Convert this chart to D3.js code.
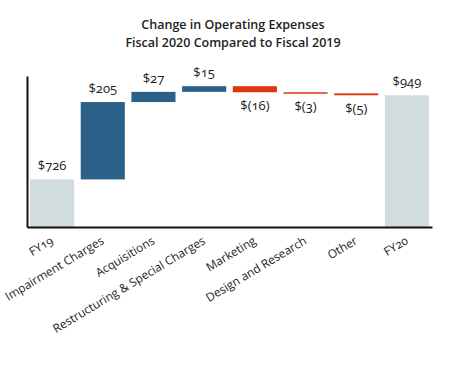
<!DOCTYPE html>
<html>
<head>
<meta charset="utf-8">
<script src="https://cdn.jsdelivr.net/npm/d3@7"></script>
<style>
  html, body { margin: 0; padding: 0; background: #fff; }
  svg { display: block; }
  text { font-family: "Open Sans", "Noto Sans", sans-serif; fill: #222; }
</style>
</head>
<body>
<svg id="chart" width="466" height="366"></svg>
<script>
const categories = ["FY19", "Impairment Charges", "Acquisitions", "Restructuring & Special Charges", "Marketing", "Design and Research", "Other", "FY20"];
const values = [726, 205, 27, 15, -16, -3, -5, 949];
const kinds = ["total", "delta", "delta", "delta", "delta", "delta", "delta", "total"];
const valueLabels = ["$726", "$205", "$27", "$15", "$(16)", "$(3)", "$(5)", "$949"];
const titleLines = ["Change in Operating Expenses", "Fiscal 2020 Compared to Fiscal 2019"];
const yDomain = [600, 1000];

const colors = { total: "#D1DCDE", up: "#2B6089", down: "#E0360E" };

// build waterfall rows
let running = 0;
const rows = categories.map((c, i) => {
  let start, end;
  if (kinds[i] === "total") { start = yDomain[0]; end = values[i]; running = values[i]; }
  else { start = running; end = running + values[i]; running = end; }
  return { cat: c, value: values[i], kind: kinds[i], start, end, label: valueLabels[i] };
});

const svg = d3.select("#chart");
const mLeft = 27, mRight = 432, mTop = 76, mBottom = 227;

const x = d3.scaleBand().domain(categories).range([mLeft, mRight]).paddingInner(0.13).paddingOuter(0.06);
const y = d3.scaleLinear().domain(yDomain).range([mBottom, mTop]);

// title
svg.append("g").selectAll("text").data(titleLines).join("text")
  .attr("x", 233).attr("y", (d, i) => 29 + i * 18)
  .attr("text-anchor", "middle")
  .style("font-weight", 600).style("font-size", "12.5px")
  .text(d => d);

// bars
svg.append("g").selectAll("rect").data(rows).join("rect")
  .attr("x", d => x(d.cat))
  .attr("width", x.bandwidth())
  .attr("y", d => y(Math.max(d.start, d.end)))
  .attr("height", d => Math.max(1.5, Math.abs(y(d.start) - y(d.end))))
  .attr("fill", d => d.kind === "total" ? colors.total : (d.value >= 0 ? colors.up : colors.down));

// value labels
svg.append("g").selectAll("text").data(rows).join("text")
  .attr("x", d => x(d.cat) + x.bandwidth() / 2)
  .attr("y", d => d.value >= 0 ? y(Math.max(d.start, d.end)) - 9 : y(Math.min(d.start, d.end)) + 18)
  .attr("text-anchor", "middle")
  .style("font-size", "13px")
  .style("font-variant-numeric", "oldstyle-nums")
  .text(d => d.label);

// axes lines
const yAxis = d3.axisLeft(y).tickValues([]).tickSizeOuter(0);
svg.append("g").attr("transform", `translate(${mLeft},0)`).call(yAxis)
  .call(g => g.select(".domain").attr("stroke", "#111").attr("stroke-width", 2));
const xAxis = d3.axisBottom(x).tickSize(0).tickSizeOuter(0).tickFormat("");
svg.append("g").attr("transform", `translate(0,${mBottom})`).call(xAxis)
  .call(g => g.select(".domain").attr("stroke", "#111").attr("stroke-width", 2));

// category labels
svg.append("g").selectAll("text").data(categories).join("text")
  .attr("transform", d => `translate(${x(d) + x.bandwidth() / 2 + 2},${mBottom + 16}) rotate(-31)`)
  .attr("text-anchor", "end")
  .style("font-size", "11.8px")
  .style("font-variant-numeric", "oldstyle-nums")
  .text(d => d);
</script>
</body>
</html>
